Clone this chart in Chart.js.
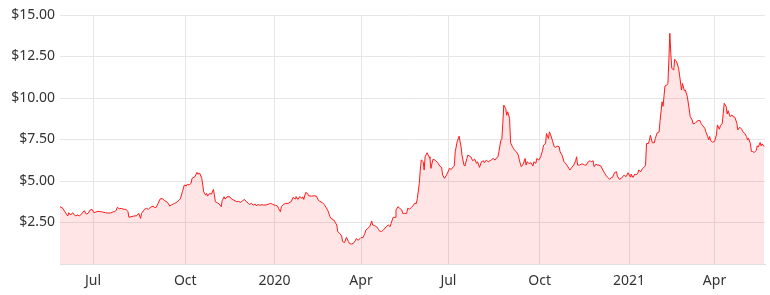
<!DOCTYPE html>
<html>
<head>
<meta charset="utf-8">
<script src="https://cdn.jsdelivr.net/npm/chart.js@4.4.0/dist/chart.umd.min.js"></script>
<style>
	body { margin: 0; background: #fff; }
	#wrap { width: 770px; height: 295px; }
</style>
</head>
<body>
<div id="wrap"><canvas id="mycanvas"></canvas></div>
<script>
// days counted from 28 May 2019
let days = [
	0,3,5,8,9,11,13,14,16,18,20,22,25,27,29,31,33,35,36,39,42,44,47,49,52,55,56,58,59,61,63,66,68,70,71,73,76,79,81,83,84,87,89,91,93,96,
	97,99,101,103,105,108,111,113,115,118,121,124,126,128,130,131,133,135,136,139,141,142,144,146,147,148,150,151,152,154,156,158,159,160,162,164,166,167,169,170,172,175,176,179,182,184,
	186,188,190,192,194,195,197,199,201,202,204,206,207,210,212,215,217,219,222,224,225,227,228,230,232,235,237,238,240,242,243,245,247,249,250,251,253,255,256,259,262,264,266,267,270,272,274,276,278,279,
	282,285,286,288,290,291,293,295,297,298,300,302,304,305,307,309,310,312,314,315,317,319,321,322,324,326,328,329,331,333,334,336,338,340,341,343,345,346,348,350,352,353,355,357,358,360,362,364,365,367,368,370,371,372,374,
	375,376,378,380,381,382,384,386,387,389,391,393,394,396,398,400,401,403,405,406,407,409,411,413,414,416,417,419,420,422,423,425,427,429,430,432,434,436,437,439,441,443,444,446,448,449,451,452,454,455,456,457,459,460,461,463,464,466,467,
	468,470,472,473,475,477,479,480,481,483,485,487,488,490,491,493,495,497,498,500,501,503,504,505,507,509,510,512,514,515,517,519,520,522,524,525,527,529,531,532,533,535,537,539,540,542,544,546,547,549,550,552,553,555,
	557,559,561,562,564,566,568,569,571,573,574,576,578,580,581,583,585,587,588,590,592,593,595,596,598,600,602,603,604,606,607,608,610,612,613,615,617,618,620,621,623,625,626,627,628,629,630,632,633,635,637,638,640,641,643,644,646,
	647,649,651,652,654,655,657,659,660,662,664,665,667,668,669,670,672,674,676,677,679,680,682,684,686,687,688,690,692,693,695,697,698,700,702,703,705,707,708,709,711,712,713,715,717,718,719,721,722,723,725
];
let prices = [
	3.45,3.35,3.15,2.89,3.09,2.95,3.09,3.01,2.89,2.95,2.89,3.01,3.21,3.01,3.05,3.25,3.29,3.09,3.11,3.17,3.15,3.13,3.09,3.07,3.07,3.15,3.13,3.25,3.41,3.33,3.35,3.29,3.29,3.15,2.81,2.85,2.89,2.91,3.05,2.75,3.05,3.29,3.35,3.29,3.41,3.49,
	3.41,3.41,3.65,3.91,3.95,3.81,3.69,3.49,3.57,3.65,3.75,3.93,4.35,4.76,4.70,4.80,4.76,4.86,5.16,5.26,5.52,5.42,5.46,5.16,4.76,4.35,4.15,4.25,4.09,4.25,4.21,4.49,4.15,3.75,3.69,3.61,3.45,3.81,4.05,3.91,4.05,4.05,3.95,3.85,3.75,3.77,
	3.71,3.81,3.89,3.75,3.65,3.59,3.65,3.55,3.61,3.51,3.59,3.53,3.57,3.55,3.55,3.61,3.65,3.59,3.53,3.49,3.35,3.15,3.45,3.59,3.65,3.65,3.73,3.75,4.01,3.93,4.07,3.89,4.07,3.95,4.05,3.89,4.31,4.25,4.11,4.09,4.11,4.09,3.85,3.79,3.71,3.59,3.41,3.20,2.85,2.75,
	2.65,2.35,1.95,1.85,1.69,1.35,1.29,1.61,1.35,1.24,1.20,1.24,1.39,1.53,1.43,1.53,1.59,1.59,1.85,2.05,2.15,2.25,2.59,2.35,2.31,2.25,2.09,1.99,1.95,2.05,2.11,2.25,2.35,2.25,2.45,2.81,2.81,3.25,3.45,3.35,3.25,3.05,3.05,3.05,3.35,3.31,3.41,3.55,3.65,3.65,3.95,4.86,5.66,6.27,6.16,
	5.66,6.46,6.70,6.46,6.36,5.76,6.30,6.27,6.22,6.10,5.90,5.82,5.36,5.16,5.36,5.60,5.76,5.70,5.86,5.90,6.76,7.36,7.70,7.06,6.56,5.96,5.90,6.36,6.56,6.50,6.46,6.22,6.32,6.06,6.16,5.82,6.16,6.22,6.10,6.26,6.16,6.22,6.26,6.36,6.26,6.36,6.46,6.76,7.46,7.50,8.46,9.57,9.37,8.96,9.17,8.76,7.30,7.06,6.96,
	6.86,6.76,6.56,6.26,5.86,6.02,6.36,5.96,6.16,6.06,6.10,5.90,6.16,6.06,6.36,6.26,6.46,6.86,7.16,7.26,7.86,7.56,7.96,7.82,7.46,7.06,7.02,7.10,7.06,6.76,6.56,6.16,6.10,5.96,5.76,5.66,5.82,5.96,6.22,6.46,5.96,5.96,6.02,6.02,5.96,5.96,6.16,6.22,6.16,6.22,5.86,6.02,5.96,5.96,
	5.90,5.66,5.46,5.36,5.22,5.10,5.22,5.22,5.50,5.56,5.30,5.10,5.16,5.30,5.36,5.26,5.50,5.26,5.42,5.22,5.42,5.36,5.46,5.66,5.56,5.76,5.86,5.96,7.26,7.26,7.46,7.76,7.30,7.30,7.56,7.90,7.96,8.66,9.77,9.50,10.72,10.78,10.88,12.29,13.90,12.69,11.79,11.69,12.33,12.19,11.79,11.39,10.48,10.88,10.44,10.48,10.08,
	9.70,8.88,8.68,8.44,8.48,8.54,8.64,8.64,8.48,8.32,8.18,7.98,7.68,7.48,7.68,7.44,7.34,7.38,7.78,8.38,8.12,8.32,8.48,9.68,9.48,9.04,9.24,8.88,8.98,8.88,8.84,8.48,8.08,8.24,8.12,7.98,7.88,7.68,7.48,7.58,7.24,6.78,6.78,6.72,6.84,7.12,7.04,7.32,7.12,7.24,7.08
];
let tickDays = [34, 129, 221, 310, 400, 494, 586, 674];
let tickLabels = ["Jul", "Oct", "2020", "Apr", "Jul", "Oct", "2021", "Apr"];

let points = days.map((d, i) => ({ x: d, y: prices[i] }));

var ctx = document.getElementById("mycanvas").getContext('2d');
var myChart = new Chart(ctx, {
	type: 'line',
	data: {
		datasets: [{
			label: 'Price',
			data: points,
			borderColor: 'rgba(255, 25, 25, 1)',
			backgroundColor: 'rgba(255, 0, 0, 0.1)',
			borderWidth: 1,
			pointRadius: 0,
			tension: 0,
			fill: 'origin'
		}]
	},
	options: {
		responsive: true,
		maintainAspectRatio: false,
		animation: false,
		layout: {
			padding: { top: 15, right: 5, left: 0, bottom: 0 }
		},
		plugins: {
			legend: { display: false },
			tooltip: { enabled: false }
		},
		scales: {
			x: {
				type: 'linear',
				min: 0,
				max: 726,
				afterBuildTicks: axis => {
					axis.ticks = tickDays.map(v => ({ value: v }));
				},
				afterFit: axis => { axis.height = 31; },
				grid: { color: '#e6e6e6', drawTicks: false },
				border: { color: '#e0e0e0' },
				ticks: {
					autoSkip: false,
					maxRotation: 0,
					padding: 9,
					color: '#333',
					font: { family: '"Noto Sans", sans-serif', size: 14 },
					callback: (value, index) => tickLabels[index]
				}
			},
			y: {
				min: 0,
				max: 15,
				afterFit: axis => { axis.width = 60; },
				grid: { color: '#e6e6e6', drawTicks: false },
				border: { display: false },
				ticks: {
					stepSize: 2.5,
					padding: 5,
					color: '#333',
					font: { family: '"Noto Sans", sans-serif', size: 14 },
					callback: value => value === 0 ? '' : '$' + value.toFixed(2)
				}
			}
		}
	}
});
</script>
</body>
</html>
